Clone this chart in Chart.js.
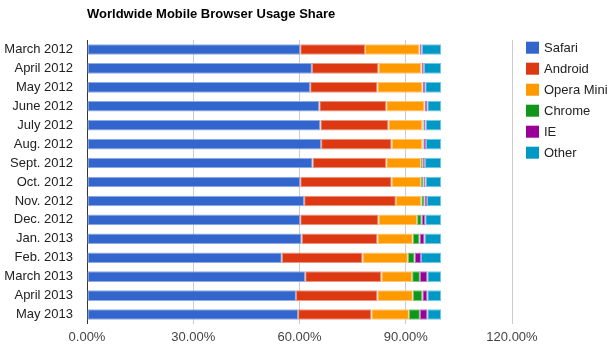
<!DOCTYPE html>
<html>
<head>
<meta charset="utf-8">
<script src="https://cdn.jsdelivr.net/npm/chart.js@4.4.0/dist/chart.umd.min.js"></script>
<style>
html,body{margin:0;padding:0;background:#fff;}
#wrap{width:610px;height:351px;position:relative;}
</style>
</head>
<body>
<div id="wrap"><canvas id="c" width="610" height="351"></canvas></div>
<script>
const categories = ["March 2012","April 2012","May 2012","June 2012","July 2012","Aug. 2012","Sept. 2012","Oct. 2012","Nov. 2012","Dec. 2012","Jan. 2013","Feb. 2013","March 2013","April 2013","May 2013"];
const safari  = [60.2,63.5,63.0,65.6,65.9,66.1,63.7,60.2,61.3,60.2,60.6,55.0,61.6,59.0,59.6];
const android = [18.3,18.8,19.0,18.9,19.2,19.9,20.8,25.8,25.9,22.1,21.4,22.8,21.5,23.0,20.7];
const opera   = [15.4,12.1,12.7,10.8,9.6,8.7,9.8,8.3,7.2,10.9,10.0,12.8,8.7,10.0,10.6];
const chrome  = [0.1,0.1,0.1,0.1,0.3,0.3,0.5,0.7,0.9,1.3,1.9,1.9,2.2,2.7,3.1];
const ie      = [0.5,0.6,0.7,0.7,0.6,0.7,0.6,0.6,0.7,1.0,1.4,1.8,2.1,1.4,2.1];
const other   = [5.5,4.9,4.5,3.9,4.4,4.3,4.6,4.4,4.0,4.5,4.7,5.7,3.9,3.9,3.9];
const seriesNames = ["Safari","Android","Opera Mini","Chrome","IE","Other"];
const seriesColors = ["#3366cc","#dc3912","#ff9900","#109618","#990099","#0099c6"];
const xTicks = [0,30,60,90,120];
const titleText = "Worldwide Mobile Browser Usage Share";

const values = [safari, android, opera, chrome, ie, other];
const FONT = "'Liberation Sans', Arial, sans-serif";

function lighten(hex, a){
  const n = parseInt(hex.slice(1),16);
  const r=(n>>16)&255,g=(n>>8)&255,b=n&255;
  const f=c=>Math.round(c+(255-c)*a);
  return `rgb(${f(r)},${f(g)},${f(b)})`;
}

const datasets = seriesNames.map((name,i)=>({
  label: name,
  data: values[i],
  backgroundColor: seriesColors[i],
  borderColor: lighten(seriesColors[i],0.45),
  borderWidth: 1,
  borderSkipped: false,
  barPercentage: 0.7,
  categoryPercentage: 0.8
}));

const extras = {
  id: 'extras',
  afterDraw(chart){
    const ctx = chart.ctx;
    const area = chart.chartArea;
    ctx.save();
    ctx.font = "bold 13px " + FONT;
    ctx.fillStyle = "#000";
    ctx.textBaseline = "middle";
    ctx.textAlign = "left";
    ctx.fillText(titleText, area.left, 14);
    ctx.font = "13px " + FONT;
    seriesNames.forEach((name,i)=>{
      const top = 41.7 + i*21;
      ctx.fillStyle = chart.data.datasets[i].backgroundColor;
      ctx.fillRect(526, top, 13, 12);
      ctx.fillStyle = "#222";
      ctx.fillText(name, 544, top + 6.5);
    });
    ctx.restore();
  }
};

new Chart(document.getElementById('c'), {
  type: 'bar',
  data: { labels: categories, datasets },
  options: {
    indexAxis: 'y',
    responsive: false,
    animation: false,
    devicePixelRatio: 1,
    layout: { padding: { top: 40, right: 98, bottom: 0, left: 0 } },
    plugins: { legend: { display: false }, title: { display: false }, tooltip: { enabled: false } },
    scales: {
      x: {
        stacked: true,
        min: 0, max: 120,
        afterBuildTicks(scale){ scale.ticks = xTicks.map(v=>({value:v})); },
        afterFit(scale){ scale.height = 27; },
        ticks: {
          padding: 6,
          color: "#444",
          font: { family: FONT, size: 13 },
          callback: v => Number(v).toFixed(2) + "%"
        },
        grid: {
          drawTicks: false,
          color: ctx => ctx.index === 0 ? "#333" : "#cccccc",
          lineWidth: 1
        },
        border: { display: false }
      },
      y: {
        stacked: true,
        afterFit(scale){ scale.width = 87; },
        ticks: {
          padding: 14,
          color: "#222",
          font: { family: FONT, size: 13 }
        },
        grid: { display: false, drawTicks: false },
        border: { display: false }
      }
    }
  },
  plugins: [extras]
});
</script>
</body>
</html>
